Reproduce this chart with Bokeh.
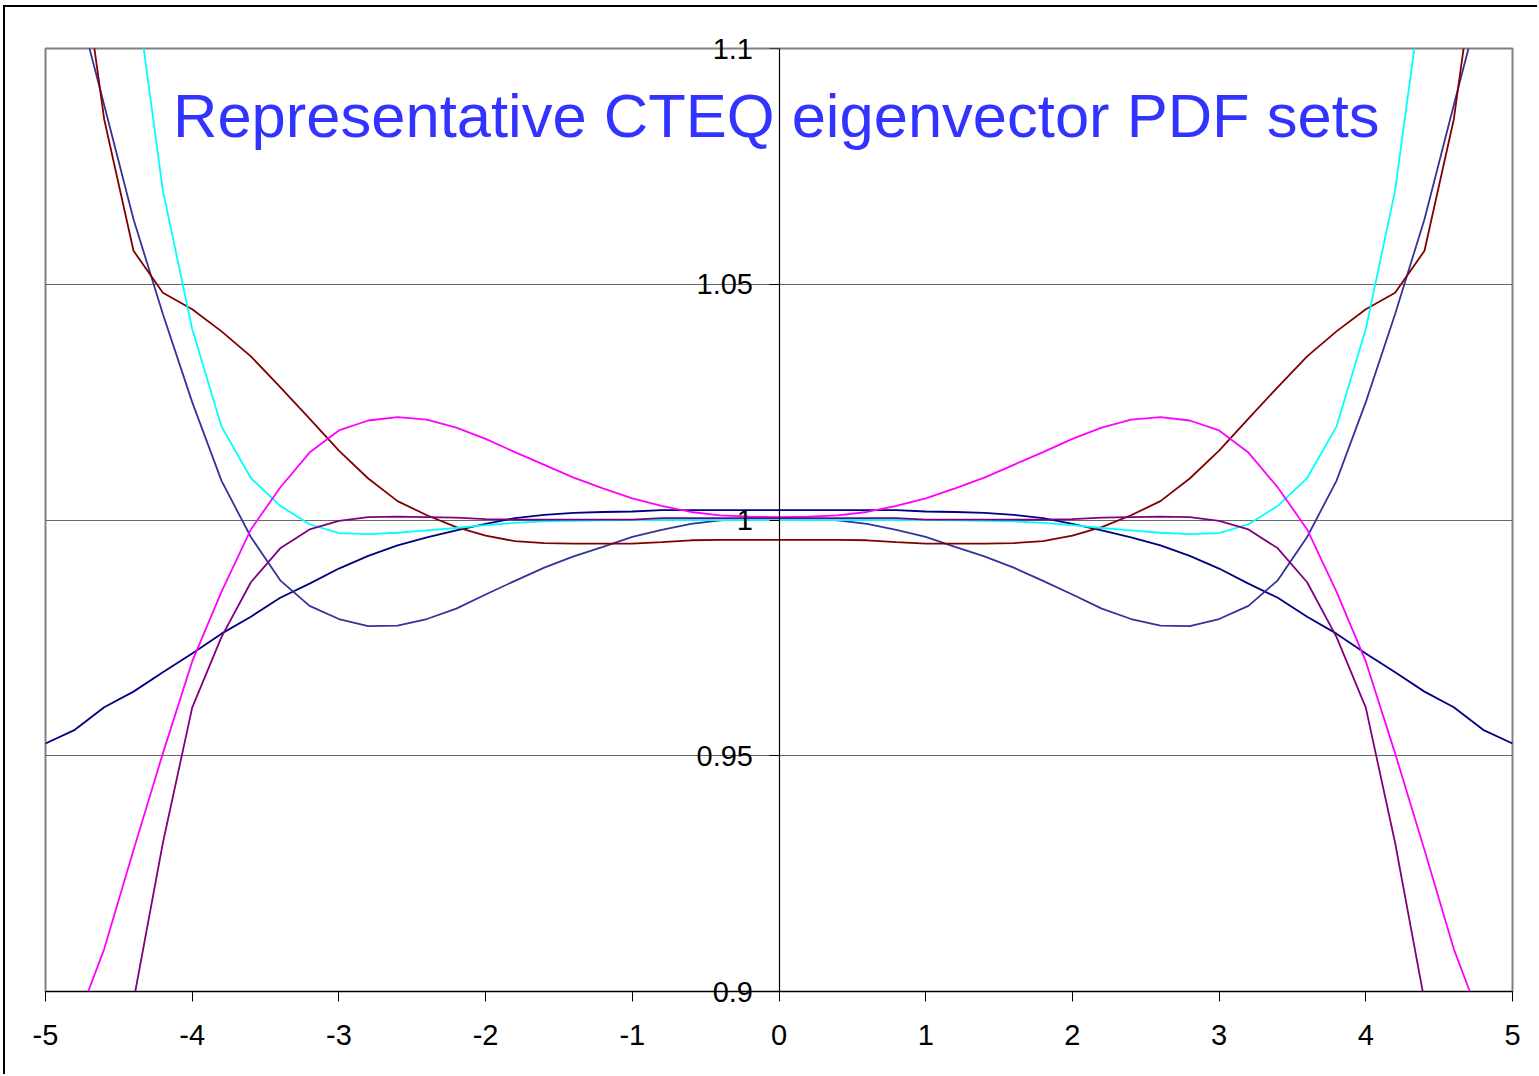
from bokeh.plotting import figure
from bokeh.models import FixedTicker, CustomJSTickFormatter, Label, Range1d
from bokeh.embed import file_html
from bokeh.resources import INLINE

# ---- data -----------------------------------------------------------------
x_vals = [-5.0, -4.8, -4.6, -4.4, -4.2, -4.0, -3.8, -3.6, -3.4, -3.2, -3.0,
          -2.8, -2.6, -2.4, -2.2, -2.0, -1.8, -1.6, -1.4, -1.2, -1.0,
          -0.8, -0.6, -0.4, -0.2, 0.0, 0.2, 0.4, 0.6, 0.8, 1.0,
          1.2, 1.4, 1.6, 1.8, 2.0, 2.2, 2.4, 2.6, 2.8, 3.0,
          3.2, 3.4, 3.6, 3.8, 4.0, 4.2, 4.4, 4.6, 4.8, 5.0]

navy_set = [0.9526, 0.9555, 0.9603, 0.9636, 0.9677, 0.9717, 0.9759, 0.9795, 0.9835, 0.9865, 0.9897,
            0.9924, 0.9946, 0.9963, 0.9978, 0.9992, 1.0004, 1.0011, 1.0015, 1.0017, 1.0018,
            1.0021, 1.0021, 1.0021, 1.0021, 1.0021, 1.0021, 1.0021, 1.0021, 1.0021, 1.0018,
            1.0017, 1.0015, 1.0011, 1.0004, 0.9992, 0.9978, 0.9963, 0.9946, 0.9924, 0.9897,
            0.9865, 0.9835, 0.9795, 0.9759, 0.9717, 0.9677, 0.9636, 0.9603, 0.9555, 0.9526]

slate_set = [1.135, 1.112, 1.088, 1.0638, 1.0437, 1.0250, 1.0083, 0.9964, 0.9872, 0.9818, 0.9790,
             0.9775, 0.9776, 0.9790, 0.9812, 0.9842, 0.9871, 0.9899, 0.9923, 0.9943, 0.9964,
             0.9979, 0.9992, 0.9999, 1.0003, 1.0003, 1.0003, 0.9999, 0.9992, 0.9979, 0.9964,
             0.9943, 0.9923, 0.9899, 0.9871, 0.9842, 0.9812, 0.9790, 0.9776, 0.9775, 0.9790,
             0.9818, 0.9872, 0.9964, 1.0083, 1.0250, 1.0437, 1.0638, 1.088, 1.112, 1.135]

darkred_set = [1.20, 1.13, 1.085, 1.0571, 1.0482, 1.0447, 1.0400, 1.0347, 1.0282, 1.0215, 1.0147,
               1.0088, 1.0040, 1.0010, 0.9985, 0.9967, 0.9955, 0.9951, 0.9950, 0.9950, 0.9950,
               0.9953, 0.9957, 0.9958, 0.9958, 0.9958, 0.9958, 0.9958, 0.9957, 0.9953, 0.9950,
               0.9950, 0.9950, 0.9951, 0.9955, 0.9967, 0.9985, 1.0010, 1.0040, 1.0088, 1.0147,
               1.0215, 1.0282, 1.0347, 1.0400, 1.0447, 1.0482, 1.0571, 1.085, 1.13, 1.20]

cyan_set = [1.30, 1.22, 1.16, 1.116, 1.0699, 1.0405, 1.0198, 1.0089, 1.0030, 0.9991, 0.9972,
            0.9970, 0.9973, 0.9978, 0.9983, 0.9989, 0.9994, 0.9997, 0.9998, 0.9999, 1.0000,
            1.0000, 1.0000, 1.0000, 1.0000, 1.0000, 1.0000, 1.0000, 1.0000, 1.0000, 1.0000,
            0.9999, 0.9998, 0.9997, 0.9994, 0.9989, 0.9983, 0.9978, 0.9973, 0.9970, 0.9972,
            0.9991, 1.0030, 1.0089, 1.0198, 1.0405, 1.0699, 1.116, 1.16, 1.22, 1.30]

magenta_set = [0.877, 0.8925, 0.909, 0.930, 0.9505, 0.9700, 0.9848, 0.9980, 1.0069, 1.0143, 1.0190,
               1.0211, 1.0218, 1.0213, 1.0196, 1.0172, 1.0144, 1.0117, 1.0090, 1.0067, 1.0046,
               1.0030, 1.0017, 1.0010, 1.0007, 1.0006, 1.0007, 1.0010, 1.0017, 1.0030, 1.0046,
               1.0067, 1.0090, 1.0117, 1.0144, 1.0172, 1.0196, 1.0213, 1.0218, 1.0211, 1.0190,
               1.0143, 1.0069, 0.9980, 0.9848, 0.9700, 0.9505, 0.930, 0.909, 0.8925, 0.877]

purple_set = [0.78, 0.818, 0.858, 0.898, 0.9315, 0.9602, 0.9752, 0.9868, 0.9940, 0.9980, 0.9998,
              1.0006, 1.0007, 1.0006, 1.0005, 1.0002, 1.0001, 1.0001, 1.0001, 1.0001, 1.0001,
              1.0004, 1.0004, 1.0004, 1.0004, 1.0004, 1.0004, 1.0004, 1.0004, 1.0004, 1.0001,
              1.0001, 1.0001, 1.0001, 1.0001, 1.0002, 1.0005, 1.0006, 1.0007, 1.0006, 0.9998,
              0.9980, 0.9940, 0.9868, 0.9752, 0.9602, 0.9315, 0.898, 0.858, 0.818, 0.78]

series = [
    (navy_set, "#000080"),
    (slate_set, "#333399"),
    (darkred_set, "#800000"),
    (cyan_set, "#00FFFF"),
    (magenta_set, "#FF00FF"),
    (purple_set, "#800080"),
]

x_ticks = [-5, -4, -3, -2, -1, 0, 1, 2, 3, 4, 5]
y_ticks = [0.9, 0.95, 1.0, 1.05, 1.1]
y_tick_labels = ["0.9", "0.95", "1", "1.05", "1.1"]
title_text = "Representative CTEQ eigenvector PDF sets"

# ---- figure ---------------------------------------------------------------
p = figure(width=1534, height=1069,
           x_range=Range1d(-5, 5), y_range=Range1d(0.9, 1.1),
           output_backend="svg", toolbar_location=None,
           min_border_left=35, min_border_top=41,
           min_border_right=27, min_border_bottom=85)
p.styles = {"margin-left": "3px", "margin-top": "5px",
            "border-top": "2px solid black", "border-left": "2px solid black"}

p.background_fill_color = "white"
p.border_fill_color = "white"
p.outline_line_color = "#808080"
p.outline_line_width = 2

p.xgrid.visible = False
p.ygrid.grid_line_color = "#666666"
p.ygrid.grid_line_width = 1
p.ygrid.ticker = FixedTicker(ticks=y_ticks)

# x axis
p.xaxis.ticker = FixedTicker(ticks=x_ticks)
p.xaxis.formatter = CustomJSTickFormatter(code="return tick.toString();")
p.xaxis.axis_line_color = "black"
p.xaxis.axis_line_width = 1.2
p.xaxis.major_tick_line_color = "black"
p.xaxis.major_tick_out = 10
p.xaxis.major_tick_in = 0
p.xaxis.minor_tick_out = 0
p.xaxis.minor_tick_in = 0
p.xaxis.major_label_standoff = 23
p.xaxis.major_label_text_font = "Liberation Sans"
p.xaxis.major_label_text_font_size = "29px"
p.xaxis.major_label_text_color = "black"

# y axis drawn at x = 0; its labels are drawn as Labels so the edge ones are not clipped
p.yaxis.fixed_location = 0
p.yaxis.ticker = FixedTicker(ticks=y_ticks)
p.yaxis.axis_line_color = "black"
p.yaxis.axis_line_width = 1.2
p.yaxis.major_tick_line_color = "black"
p.yaxis.major_tick_out = 10
p.yaxis.major_tick_in = 0
p.yaxis.minor_tick_out = 0
p.yaxis.minor_tick_in = 0
p.yaxis.major_label_text_alpha = 0

lab_style = dict(text_align="right", text_baseline="middle",
                 text_font="Liberation Sans", text_font_size="29px",
                 text_color="black")
for yv, lab in zip(y_ticks, y_tick_labels):
    lbl = Label(x=0, y=yv, text=lab, x_offset=-26, **lab_style)
    if yv == max(y_ticks):
        p.add_layout(lbl, "above")
    elif yv == min(y_ticks):
        p.add_layout(lbl, "left")
    else:
        p.add_layout(lbl)

for ys, col in series:
    p.line(x_vals, ys, line_color=col, line_width=1.8)

p.add_layout(Label(x=-4.131, y=1.0858, text=title_text,
                   text_font="Liberation Sans", text_font_size="61.5px",
                   text_color="#3333FF", text_baseline="alphabetic"))

open("out.html", "w").write(file_html(p, INLINE))
